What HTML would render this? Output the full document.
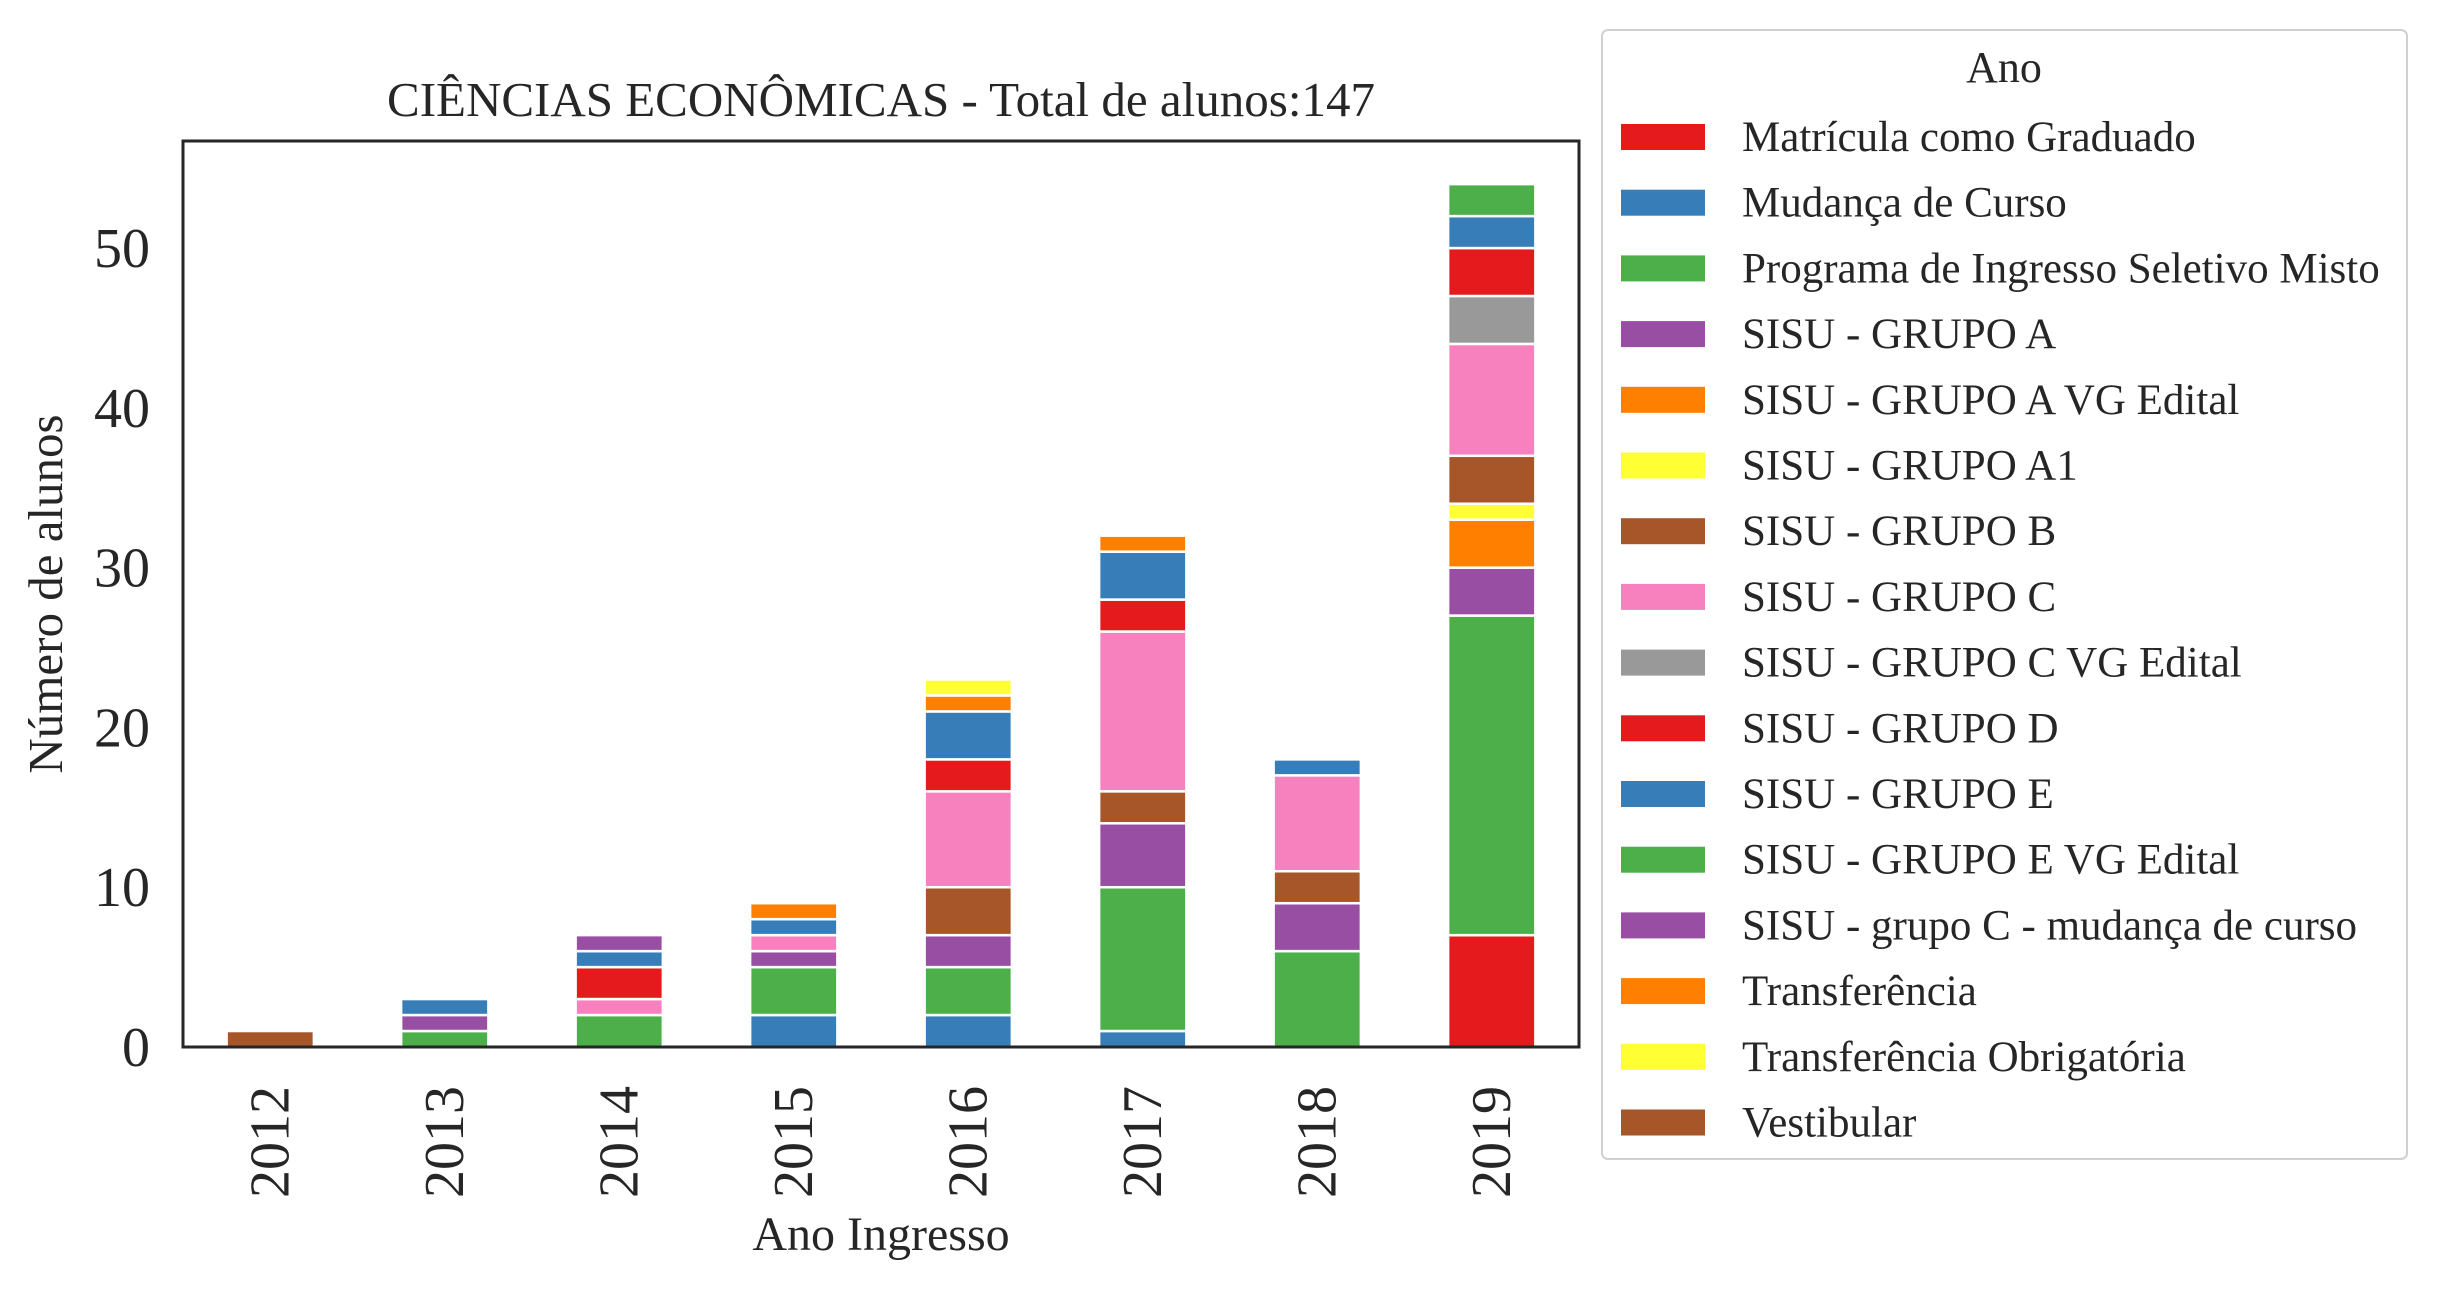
<!DOCTYPE html>
<html><head><meta charset="utf-8"><style>
body{margin:0;background:#fff}
svg text{font-family:"Liberation Serif","DejaVu Serif",serif;fill:#262626}
</style></head><body>
<svg id="chart" width="2437" height="1290" viewBox="0 0 2437 1290" xmlns="http://www.w3.org/2000/svg">
<rect width="2437" height="1290" fill="#fff"/>
<text x="881" y="116" font-size="49" text-anchor="middle">CIÊNCIAS ECONÔMICAS - Total de alunos:147</text>
<g id="bars"></g>
<g id="yticks"></g>
<g id="xticks"></g>
<rect x="183" y="141" width="1396" height="906" fill="none" stroke="#262626" stroke-width="3"/>
<text transform="translate(62,594) rotate(-90)" font-size="49" text-anchor="middle">Número de alunos</text>
<text x="881" y="1250" font-size="48" text-anchor="middle">Ano Ingresso</text>
<rect x="1602" y="30" width="805" height="1129" rx="6" fill="#fff" stroke="#d0d0d0" stroke-width="2"/>
<text x="2004" y="82" font-size="44" text-anchor="middle">Ano</text>
<g id="legend"></g>
</svg>
<script>
const categories=["2012","2013","2014","2015","2016","2017","2018","2019"];
const seriesNames=["Matrícula como Graduado","Mudança de Curso","Programa de Ingresso Seletivo Misto","SISU - GRUPO A","SISU - GRUPO A VG Edital","SISU - GRUPO A1","SISU - GRUPO B","SISU - GRUPO C","SISU - GRUPO C VG Edital","SISU - GRUPO D","SISU - GRUPO E","SISU - GRUPO E VG Edital","SISU - grupo C - mudança de curso","Transferência","Transferência Obrigatória","Vestibular"];
const seriesColors=["#e41a1c","#377eb8","#4daf4a","#984ea3","#ff7f00","#ffff33","#a65628","#f781bf","#999999","#e41a1c","#377eb8","#4daf4a","#984ea3","#ff7f00","#ffff33","#a65628"];
const sMatricula=[0,0,0,0,0,0,0,7];
const sMudanca=[0,0,0,2,2,1,0,0];
const sPISM=[0,1,2,3,3,9,6,20];
const sGrupoA=[0,1,0,1,2,4,3,3];
const sGrupoAVG=[0,0,0,0,0,0,0,3];
const sGrupoA1=[0,0,0,0,0,0,0,1];
const sGrupoB=[0,0,0,0,3,2,2,3];
const sGrupoC=[0,0,1,1,6,10,6,7];
const sGrupoCVG=[0,0,0,0,0,0,0,3];
const sGrupoD=[0,0,2,0,2,2,0,3];
const sGrupoE=[0,1,1,1,3,3,1,2];
const sGrupoEVG=[0,0,0,0,0,0,0,2];
const sGrupoCMud=[0,0,1,0,0,0,0,0];
const sTransf=[0,0,0,1,1,1,0,0];
const sTransfObrig=[0,0,0,0,1,0,0,0];
const sVestibular=[1,0,0,0,0,0,0,0];
const seriesValues=[sMatricula,sMudanca,sPISM,sGrupoA,sGrupoAVG,sGrupoA1,sGrupoB,sGrupoC,sGrupoCVG,sGrupoD,sGrupoE,sGrupoEVG,sGrupoCMud,sTransf,sTransfObrig,sVestibular];
const yTicks=[0,10,20,30,40,50];

const NS="http://www.w3.org/2000/svg";
const L=183,R=1579,T=141,B=1047;
let totals=categories.map((c,i)=>seriesValues.reduce((a,s)=>a+s[i],0));
const yMax=Math.max(...totals)*1.05;
const y=v=>B-v/yMax*(B-T);
const step=(R-L)/categories.length;
const xc=i=>L+step*(i+0.5);
const bw=step*0.5;
function mk(tag,attrs,parent){const e=document.createElementNS(NS,tag);for(const k in attrs)e.setAttribute(k,attrs[k]);parent.appendChild(e);return e;}
const gB=document.getElementById('bars');
categories.forEach((c,i)=>{let base=0;
 seriesValues.forEach((s,k)=>{const v=s[i];if(!v)return;
  const r=mk('rect',{x:xc(i)-bw/2,y:y(base+v),width:bw,height:y(base)-y(base+v),fill:seriesColors[k],stroke:'#fff','stroke-width':2.5},gB);
  
  
  base+=v;});
});
const gY=document.getElementById('yticks');
yTicks.forEach(t=>{const e=mk('text',{x:150,y:y(t)+19,'font-size':56,'text-anchor':'end'},gY);e.textContent=t;
 
 });
const gX=document.getElementById('xticks');
categories.forEach((c,i)=>{const e=mk('text',{transform:`translate(${xc(i)+18},1086) rotate(-90)`,'font-size':56,'text-anchor':'end'},gX);e.textContent=c;
 
 });
const gL=document.getElementById('legend');
seriesNames.forEach((n,k)=>{const yy=137+k*65.7;
 const g=mk('g',{},gL);
 
 
 mk('rect',{x:1621,y:yy-13,width:84,height:26,fill:seriesColors[k]},g);
 const t=mk('text',{x:1742,y:yy+14,'font-size':43},g);t.textContent=n;});
</script>
</body></html>
